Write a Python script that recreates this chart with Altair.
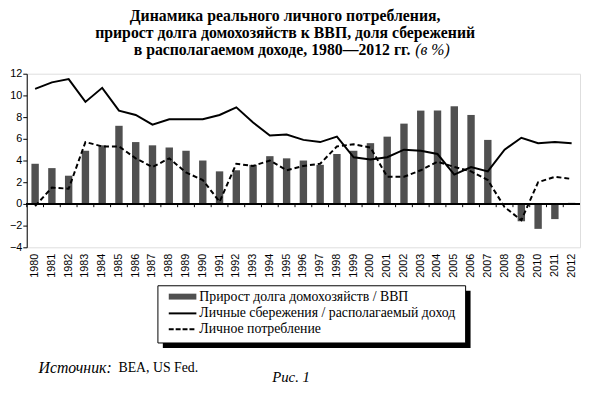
import altair as alt
import pandas as pd

years = [str(y) for y in range(1980, 2013)]
debt_growth = [3.7, 3.3, 2.6, 4.9, 5.4, 7.2, 5.7, 5.4, 5.2, 4.9, 4.0, 3.0, 3.1, 3.6, 4.4, 4.2, 4.0, 3.6, 4.6, 4.9, 5.6, 6.2, 7.4, 8.6, 8.6, 9.0, 8.2, 5.9, 0.0, -1.6, -2.3, -1.4, 0.1]
savings = [10.6, 11.2, 11.5, 9.4, 10.7, 8.6, 8.2, 7.3, 7.8, 7.8, 7.8, 8.2, 8.9, 7.5, 6.3, 6.4, 5.9, 5.7, 6.2, 4.3, 4.1, 4.3, 5.0, 4.9, 4.6, 2.7, 3.4, 3.0, 5.0, 6.1, 5.6, 5.7, 5.6]
consumption = [-0.2, 1.5, 1.4, 5.7, 5.3, 5.3, 4.2, 3.4, 4.2, 2.9, 2.2, 0.2, 3.7, 3.5, 4.0, 3.1, 3.5, 3.7, 5.3, 5.5, 5.2, 2.5, 2.5, 3.1, 3.9, 3.4, 3.0, 2.2, -0.3, -1.5, 2.0, 2.5, 2.3]
y_ticks = [-4, -2, 0, 2, 4, 6, 8, 10, 12]

title_lines = ["Динамика реального личного потребления,",
               "прирост долга домохозяйств к ВВП, доля сбережений"]
title_line3 = "в располагаемом доходе, 1980—2012 гг."
title_unit = "(в %)"
legend_labels = ["Прирост долга домохозяйств / ВВП",
                 "Личные сбережения / располагаемый доход",
                 "Личное потребление"]
source_label = "Источник:"
source_text = "BEA, US Fed."
fig_label = "Рис. 1"

df = pd.DataFrame({"year": years, "debt": debt_growth, "sav": savings, "cons": consumption})

W, H = 561, 176
OX = 4  # shift of plot origin vs. reference
SERIF = "Liberation Serif"
SANS = "Liberation Sans"

xscale = alt.Scale(paddingInner=0, paddingOuter=0)
xaxis = alt.Axis(labelAngle=-90, labelFont=SANS, labelFontSize=11, labelColor="black",
                 domain=False, ticks=False, labelPadding=6, labelOverlap=False)
xenc = alt.X("year:O", sort=years, title=None, scale=xscale, axis=xaxis)
yscale = alt.Scale(domain=[-4, 12], nice=False, zero=False)
yaxis = alt.Axis(values=y_ticks, grid=False, domainColor="black", tickColor="black", tickSize=4,
                 labelFont=SANS, labelFontSize=11, labelColor="black", labelPadding=1, title=None,
                 labelOverlap=False, labelFlush=False, labelBound=False)

def yenc(field):
    return alt.Y(field, type="quantitative", scale=yscale, axis=yaxis, title=None)

base = alt.Chart(df)

bars = base.mark_bar(size=7.5, color="#505050").encode(x=xenc, y=yenc("debt"))

zero = base.mark_rule(color="black", strokeWidth=1.2).encode(
    x=alt.value(0), x2=alt.value(W), y=alt.Y(datum=0, scale=yscale, axis=yaxis, title=None))

ticks = base.mark_rule(color="black", strokeWidth=1).encode(
    x=alt.X("year:O", sort=years, bandPosition=0, scale=xscale, axis=xaxis, title=None),
    y=alt.Y(datum=0, scale=yscale, axis=yaxis, title=None), y2=alt.datum(-0.3))

sav_line = base.mark_line(color="black", strokeWidth=2).encode(x=xenc, y=yenc("sav"))
cons_line = base.mark_line(color="black", strokeWidth=2, strokeDash=[5, 3]).encode(x=xenc, y=yenc("cons"))

one = pd.DataFrame({"a": [0]})
ob = alt.Chart(one)

def txt(s, x, y, size, weight="normal", style="normal", align="left", font=SERIF):
    return ob.mark_text(text=s, font=font, fontSize=size, fontWeight=weight, fontStyle=style,
                        align=align, baseline="middle", color="black").encode(
        x=alt.value(x - OX), y=alt.value(y))

title_layers = [
    txt(title_lines[0], 266, -58, 16, "bold", align="center"),
    txt(title_lines[1], 266, -41, 16, "bold", align="center"),
    txt(title_line3, 393, -24, 16, "bold", align="right"),
    txt(title_unit, 398, -24, 16, "normal", "italic", align="left"),
]

# legend box
lx0, lx1, ly0, ly1 = 137 - OX, 449 - OX, 215, 273
shadow = ob.mark_rect(color="black").encode(
    x=alt.value(lx0 + 5), x2=alt.value(lx1 + 5), y=alt.value(ly0 + 5), y2=alt.value(ly1 + 5))
box = ob.mark_rect(fill="white", stroke="black", strokeWidth=1).encode(
    x=alt.value(lx0), x2=alt.value(lx1), y=alt.value(ly0), y2=alt.value(ly1))
sw_bar = ob.mark_rect(color="#505050").encode(
    x=alt.value(148 - OX), x2=alt.value(176 - OX), y=alt.value(223), y2=alt.value(229))
sw_line = ob.mark_rule(color="black", strokeWidth=2).encode(
    x=alt.value(148 - OX), x2=alt.value(176 - OX), y=alt.value(243))
sw_dash = ob.mark_rule(color="black", strokeWidth=2, strokeDash=[5, 2]).encode(
    x=alt.value(148 - OX), x2=alt.value(176 - OX), y=alt.value(259))
legend_layers = [shadow, box, sw_bar, sw_line, sw_dash,
                 txt(legend_labels[0], 179, 226, 14),
                 txt(legend_labels[1], 179, 243, 14),
                 txt(legend_labels[2], 179, 259, 14)]

foot_layers = [
    txt(source_label, 16, 298, 16, style="italic"),
    txt(source_text, 97, 298, 14),
    txt(fig_label, 272, 308, 15, style="italic", align="center"),
]

chart = alt.layer(bars, zero, ticks, sav_line, cons_line, *title_layers, *legend_layers, *foot_layers).properties(
    width=W, height=H,
    autosize=alt.AutoSizeParams(type="none"),
    padding={"left": 19, "top": 64, "right": 2, "bottom": 139},
).configure_view(stroke=None).configure(background="white").configure_axis(labelOverlap=False)

chart.save("out.html", embed_options={"renderer": "svg", "actions": False})
